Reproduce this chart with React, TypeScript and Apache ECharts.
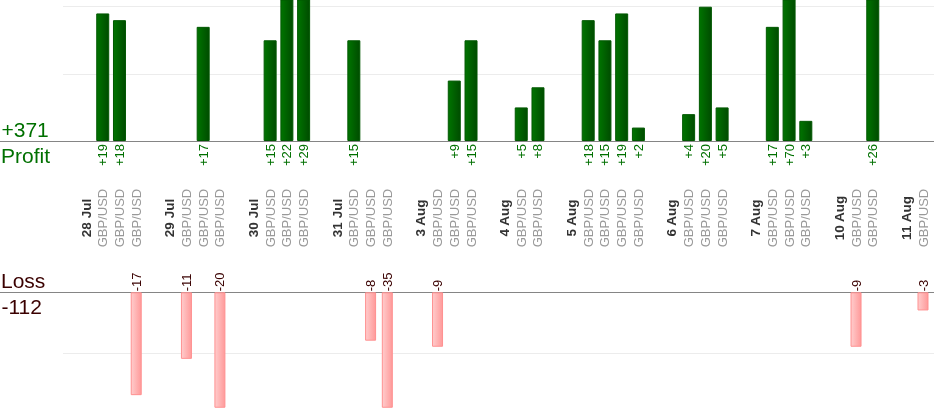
import React, { useEffect, useRef } from 'react';
import * as echarts from 'echarts';

// ---- data ----
const dates = ['28 Jul', '29 Jul', '30 Jul', '31 Jul', '3 Aug', '4 Aug', '5 Aug', '6 Aug', '7 Aug', '10 Aug', '11 Aug'];
const tradesPerDay = [3, 3, 3, 3, 3, 2, 4, 3, 3, 2, 1];
const pair = 'GBP/USD';
const results = [
  19, 18, -17,
  -11, 17, -20,
  15, 22, 29,
  15, -8, -35,
  -9, 9, 15,
  5, 8,
  18, 15, 19, 2,
  4, 20, 5,
  17, 70, 3,
  -9, 26,
  -3,
];

// build category slots: date, trades..., gap
const categories: string[] = [];
const isDate: boolean[] = [];
const profit: (number | null)[] = [];
const loss: (number | null)[] = [];
{
  let k = 0;
  dates.forEach((d, i) => {
    categories.push(d); isDate.push(true); profit.push(null); loss.push(null);
    for (let j = 0; j < tradesPerDay[i]; j++) {
      const r = results[k++];
      categories.push(pair); isDate.push(false);
      profit.push(r > 0 ? r : null);
      loss.push(r < 0 ? r : null);
    }
    if (i < dates.length - 1) {
      categories.push(''); isDate.push(false); profit.push(null); loss.push(null);
    }
  });
}
const totalProfit = results.filter((r) => r > 0).reduce((a, b) => a + b, 0);
const totalLoss = results.filter((r) => r < 0).reduce((a, b) => a + b, 0);

// ---- layout ----
const FONT = '"Liberation Sans", Arial, Helvetica, sans-serif';
const GREEN = '#007000';
const MAROON = '#3a0000';
const slot = 16.74;
const firstCenter = 86;
const barLeft = firstCenter - slot / 2;
const barAreaWidth = slot * categories.length;
const topAxisY = 141;
const topScale = 6.75;
const topMax = 21;
const botAxisY = 292.3;
const botScale = 6.05;
const botMin = -19;
const topG = { top: topAxisY - topMax * topScale, height: topMax * topScale };
const botG = { top: botAxisY, height: -botMin * botScale };

export default function App() {
  const ref = useRef<HTMLDivElement>(null);
  useEffect(() => {
    if (!ref.current) return;
    const chart = echarts.init(ref.current, null, { renderer: 'svg' });
    const hiddenValueX = (gi: number) => ({ type: 'value', gridIndex: gi, min: 0, max: 1, show: false });
    const lineX = (gi: number, pos: string) => ({
      type: 'value', gridIndex: gi, min: 0, max: 1, position: pos,
      axisLine: { show: true, onZero: false, lineStyle: { color: '#858585', width: 1 } },
      axisTick: { show: false }, axisLabel: { show: false }, splitLine: { show: false },
    });
    const gridLineY = (gi: number, min: number, max: number, extra: any) => ({
      type: 'value', gridIndex: gi, min, max, ...extra,
      axisLine: { show: false }, axisTick: { show: false }, axisLabel: { show: false },
      splitLine: { show: true, showMinLine: false, showMaxLine: false, lineStyle: { color: '#ececec', width: 1 } },
    });
    chart.setOption({
      animation: false,
      grid: [
        { left: barLeft, width: barAreaWidth, ...topG },
        { left: 63, right: 0, ...topG },
        { left: 0, right: 0, ...topG },
        { left: barLeft, width: barAreaWidth, ...botG },
        { left: 63, right: 0, ...botG },
        { left: 0, right: 0, ...botG },
      ],
      xAxis: [
        {
          type: 'category', gridIndex: 0, data: categories,
          axisLine: { show: false }, axisTick: { show: false }, splitLine: { show: false },
          axisLabel: {
            interval: 0, rotate: 90, margin: 77, align: 'center', verticalAlign: 'middle',
            formatter: (v: string, i: number) => (v === '' ? '' : isDate[i] ? `{d|${v}}` : `{g|${v}}`),
            rich: {
              d: { fontFamily: FONT, fontWeight: 'bold', fontSize: 13.5, color: '#333333' },
              g: { fontFamily: FONT, fontSize: 13, color: '#999999' },
            },
          },
        },
        hiddenValueX(1),
        lineX(2, 'bottom'),
        { type: 'category', gridIndex: 3, data: categories, show: false },
        hiddenValueX(4),
        lineX(5, 'top'),
      ],
      yAxis: [
        { type: 'value', gridIndex: 0, min: 0, max: topMax, show: false },
        gridLineY(1, 0, topMax, { interval: 10 }),
        { type: 'value', gridIndex: 2, min: 0, max: topMax, show: false },
        { type: 'value', gridIndex: 3, min: botMin, max: 0, show: false },
        gridLineY(4, botMin, 0, { splitNumber: 2, minInterval: 10, maxInterval: 10 }),
        { type: 'value', gridIndex: 5, min: botMin, max: 0, show: false },
      ],
      graphic: [
        { type: 'text', x: 1.5, y: 129.4, style: { text: '+' + totalProfit, fill: GREEN, fontSize: 21, fontFamily: FONT, verticalAlign: 'middle' } },
        { type: 'text', x: 1, y: 155, style: { text: 'Profit', fill: GREEN, fontSize: 21, fontFamily: FONT, verticalAlign: 'middle' } },
        { type: 'text', x: 1, y: 280.7, style: { text: 'Loss', fill: MAROON, fontSize: 21, fontFamily: FONT, verticalAlign: 'middle' } },
        { type: 'text', x: 1.5, y: 306.7, style: { text: String(totalLoss), fill: MAROON, fontSize: 21, fontFamily: FONT, verticalAlign: 'middle' } },
      ],
      series: [
        {
          type: 'bar', name: 'Profit', xAxisIndex: 0, yAxisIndex: 0, data: profit, barWidth: 13, clip: true,
          itemStyle: {
            color: new echarts.graphic.LinearGradient(0, 0, 1, 0, [
              { offset: 0, color: '#007400' },
              { offset: 1, color: '#004c00' },
            ]),
            borderColor: '#005800', borderWidth: 1,
          },
          label: {
            show: true, position: 'bottom', distance: 3, rotate: 90, align: 'right', verticalAlign: 'middle',
            formatter: (p: any) => '+' + p.value, color: GREEN, fontSize: 13, fontFamily: FONT,
          },
        },
        {
          type: 'bar', name: 'Loss', xAxisIndex: 3, yAxisIndex: 3, data: loss, barWidth: 11, clip: true,
          itemStyle: {
            color: new echarts.graphic.LinearGradient(0, 0, 1, 0, [
              { offset: 0, color: '#ffcccc' },
              { offset: 1, color: '#ff9a9a' },
            ]),
            borderColor: '#ff9191', borderWidth: 1,
          },
          label: {
            show: true, position: 'top', distance: 1, rotate: 90, align: 'left', verticalAlign: 'middle',
            formatter: (p: any) => String(p.value), color: MAROON, fontSize: 13, fontFamily: FONT,
          },
        },
      ],
    });
    return () => chart.dispose();
  }, []);
  return <div ref={ref} style={{ position: 'fixed', left: 0, top: 0, width: 934, height: 420 }} />;
}
